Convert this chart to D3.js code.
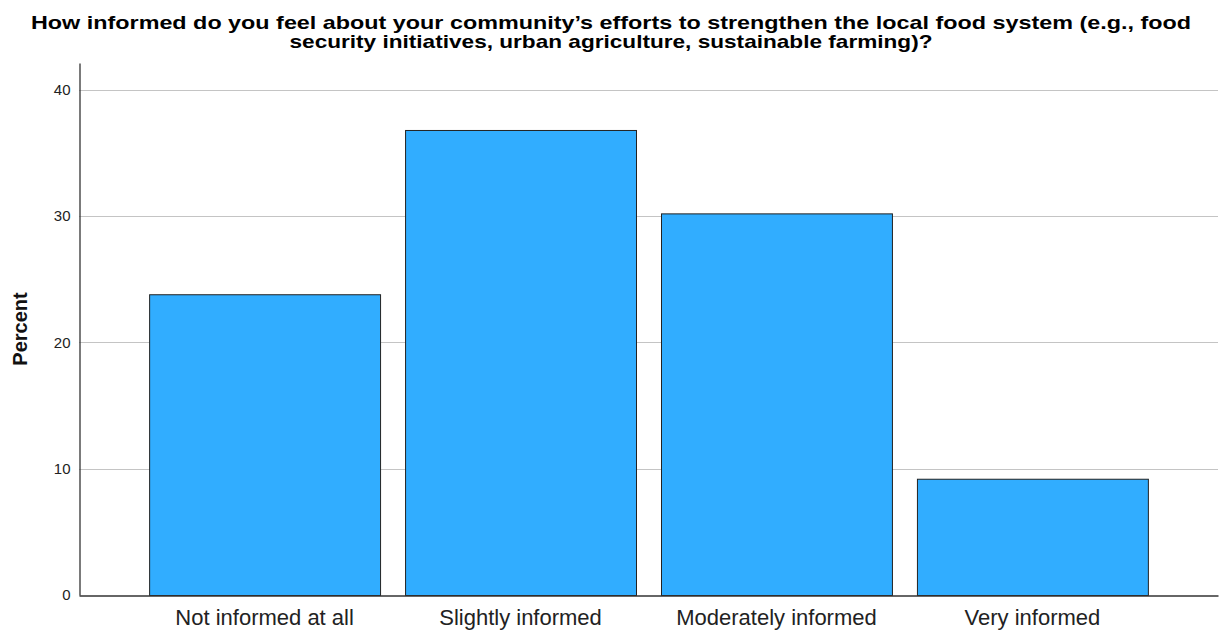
<!DOCTYPE html>
<html>
<head>
<meta charset="utf-8">
<script src="https://cdn.jsdelivr.net/npm/d3@7"></script>
<style>
  html, body { margin: 0; padding: 0; background: #fff; }
  svg { display: block; font-family: "Liberation Sans", Arial, sans-serif; }
</style>
</head>
<body>
<svg id="chart" width="1221" height="633"></svg>
<script>
// Survey responses (percent of respondents)
const categories = ["Not informed at all", "Slightly informed", "Moderately informed", "Very informed"];
const percents = [23.8, 36.8, 30.2, 9.2];
const yTicks = [0, 10, 20, 30, 40];
const titleLines = [
  "How informed do you feel about your community\u2019s efforts to strengthen the local food system (e.g., food",
  "security initiatives, urban agriculture, sustainable farming)?"
];
const titleWidths = [1160, 643];

const svg = d3.select("#chart");
const margin = { left: 79, right: 3, top: 63, bottom: 38 };
const W = 1221, H = 633;

const x = d3.scaleBand()
  .domain(categories)
  .range([margin.left, W - margin.right])
  .paddingInner(0.0977)
  .paddingOuter(0.274);

const y = d3.scaleLinear()
  .domain([0, 42.1])
  .range([H - margin.bottom, margin.top]);

// Gridlines
svg.append("g")
  .selectAll("line")
  .data(yTicks.filter(d => d > 0))
  .join("line")
  .attr("x1", margin.left)
  .attr("x2", W - margin.right)
  .attr("y1", d => Math.round(y(d)) + 0.5)
  .attr("y2", d => Math.round(y(d)) + 0.5)
  .attr("stroke", "#c4c4c4")
  .attr("stroke-width", 1);

// Bars
svg.append("g")
  .selectAll("rect")
  .data(percents)
  .join("rect")
  .attr("x", (d, i) => x(categories[i]) + 0.5)
  .attr("y", d => y(d) + 0.5)
  .attr("width", x.bandwidth())
  .attr("height", d => y(0) - y(d))
  .attr("fill", "#31adff")
  .attr("stroke", "#222")
  .attr("stroke-width", 1);

// Y axis
const yAxis = d3.axisLeft(y).tickValues(yTicks).tickSize(0).tickPadding(9).tickFormat(d3.format("d"));
const gy = svg.append("g")
  .attr("transform", `translate(${margin.left + 0.5},0)`)
  .call(yAxis);
gy.select(".domain").attr("stroke", "#333").attr("stroke-width", 1.3);
gy.selectAll("text").attr("font-size", 15).attr("fill", "#222")
  .attr("font-family", "'Liberation Sans', Arial, sans-serif");

// X axis
const xAxis = d3.axisBottom(x).tickSize(0).tickPadding(14);
const gx = svg.append("g")
  .attr("transform", `translate(0,${y(0) + 0.5})`)
  .call(xAxis);
gx.select(".domain").attr("stroke", "#333").attr("stroke-width", 1.3);
gx.selectAll("text").attr("font-size", 22).attr("fill", "#222")
  .attr("font-family", "'Liberation Sans', Arial, sans-serif");

// Y axis title
svg.append("text")
  .attr("transform", `translate(27,${(y(0) + y(42.1)) / 2}) rotate(-90)`)
  .attr("text-anchor", "middle")
  .attr("font-size", 20)
  .attr("font-weight", "bold")
  .attr("fill", "#111")
  .text("Percent");

// Chart title
svg.append("g")
  .selectAll("text")
  .data(titleLines)
  .join("text")
  .attr("x", 611)
  .attr("y", (d, i) => 29 + i * 19)
  .attr("text-anchor", "middle")
  .attr("font-family", "'Liberation Sans', Arial, sans-serif")
  .attr("font-size", 19)
  .attr("font-weight", "bold")
  .attr("fill", "#000")
  .attr("textLength", (d, i) => titleWidths[i])
  .attr("lengthAdjust", "spacingAndGlyphs")
  .text(d => d);
</script>
</body>
</html>
